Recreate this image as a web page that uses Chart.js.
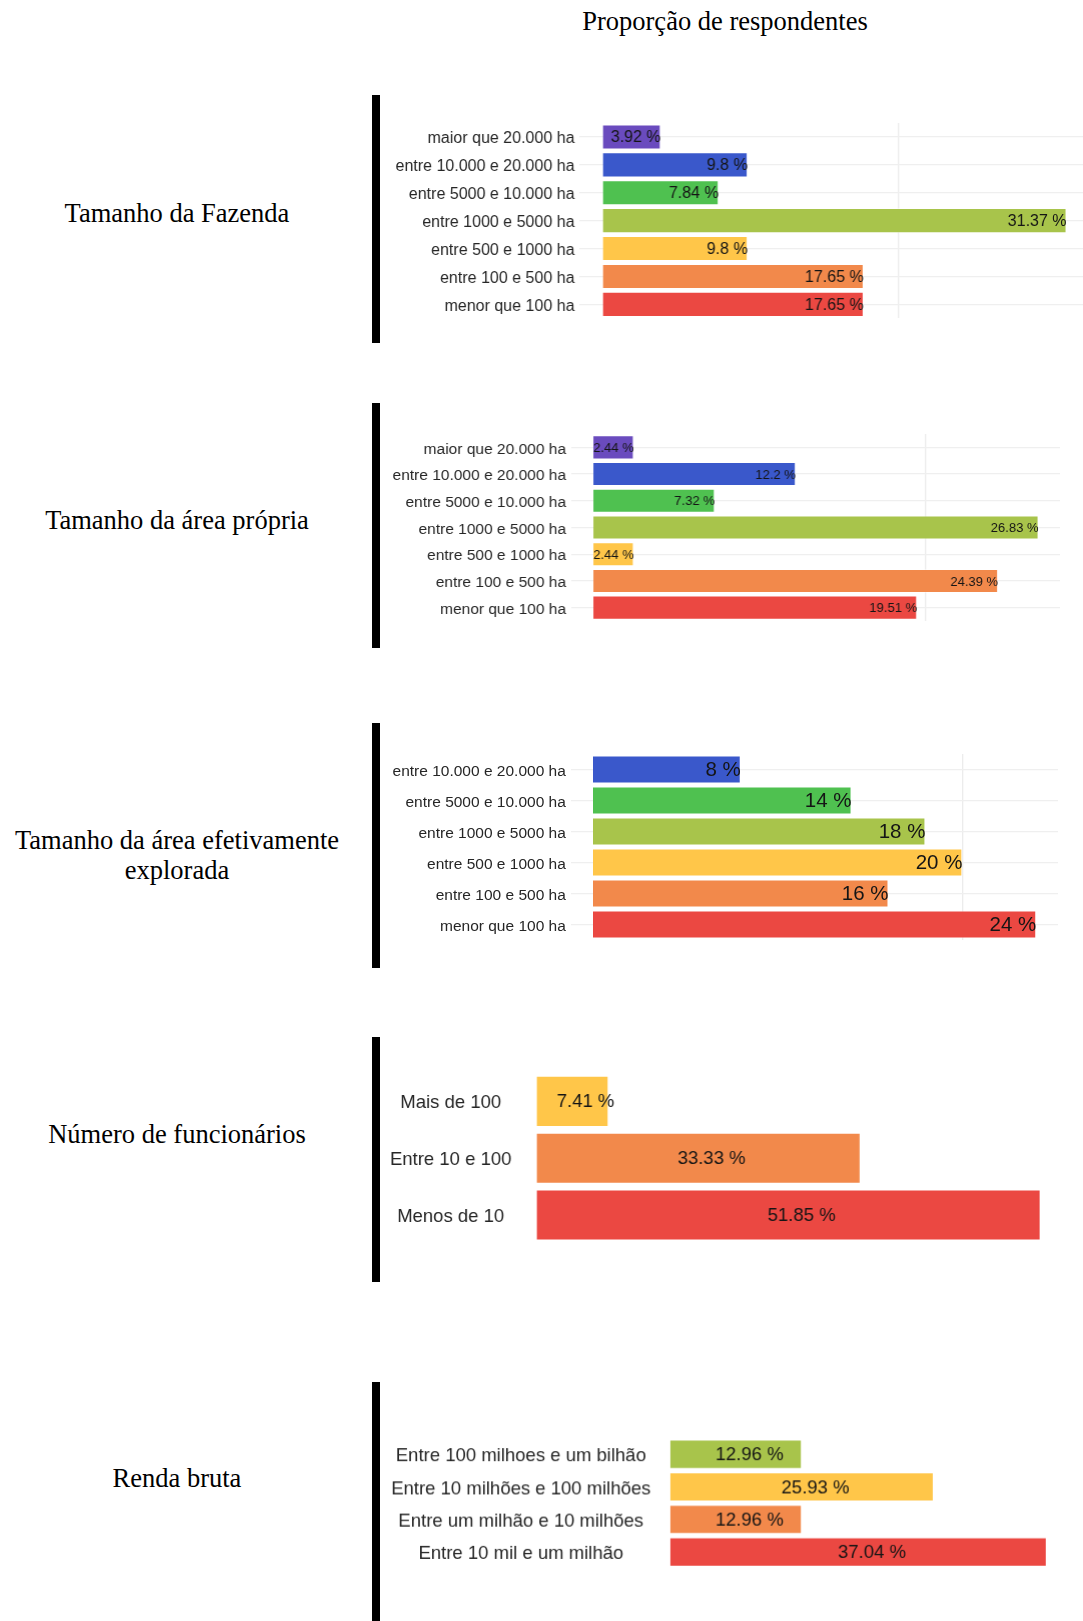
<!DOCTYPE html>
<html lang="pt">
<head>
<meta charset="utf-8">
<title>Proporção de respondentes</title>
<script src="https://cdn.jsdelivr.net/npm/chart.js@4.4.1/dist/chart.umd.min.js"></script>
<style>
  html, body { margin: 0; padding: 0; background: #fff; }
  body {
    width: 1083px; height: 1621px; position: relative; overflow: hidden;
    font-family: 'Liberation Serif', 'Times New Roman', serif;
  }
  .title {
    position: absolute; transform: translate(-50%, -50%);
    font-size: 26.5px; line-height: 30px; color: #000;
    white-space: nowrap; text-align: center;
  }
  .rule { position: absolute; left: 372px; width: 7.5px; background: #000; z-index: 2; }
  .panel { position: absolute; }
</style>
</head>
<body>

<div class="title" style="left:725px; top:21px;">Proporção de respondentes</div>

<div class="title" style="left:177px; top:213px;">Tamanho da Fazenda</div>
<div class="title" style="left:177px; top:520px;">Tamanho da área própria</div>
<div class="title" style="left:177px; top:855px;">Tamanho da área efetivamente<br>explorada</div>
<div class="title" style="left:177px; top:1134px;">Número de funcionários</div>
<div class="title" style="left:177px; top:1478px;">Renda bruta</div>

<!-- black rules separating the row titles from the bars -->
<div class="rule" style="top:95px; height:248px;"></div>
<div class="rule" style="top:403px; height:245px;"></div>
<div class="rule" style="top:723px; height:245px;"></div>
<div class="rule" style="top:1037px; height:245px;"></div>
<div class="rule" style="top:1382px; height:239px;"></div>

<div class="panel" id="p1"><canvas id="c1"></canvas></div>
<div class="panel" id="p2"><canvas id="c2"></canvas></div>
<div class="panel" id="p3"><canvas id="c3"></canvas></div>
<div class="panel" id="p4"><canvas id="c4"></canvas></div>
<div class="panel" id="p5"><canvas id="c5"></canvas></div>

<script>
// area classes (top to bottom)
const sizeClasses = [
    "maior que 20.000 ha",
    "entre 10.000 e 20.000 ha",
    "entre 5000 e 10.000 ha",
    "entre 1000 e 5000 ha",
    "entre 500 e 1000 ha",
    "entre 100 e 500 ha",
    "menor que 100 ha"
];
const exploredClasses = sizeClasses.slice(1); // nobody above 20.000 ha

const employeeClasses = ["Mais de 100", "Entre 10 e 100", "Menos de 10"];
const incomeClasses = [
    "Entre 100 milhoes e um bilhão",
    "Entre 10 milhões e 100 milhões",
    "Entre um milhão e 10 milhões",
    "Entre 10 mil e um milhão"
];

// % of respondents
const farmSizeValues  = [3.92, 9.8, 7.84, 31.37, 9.8, 17.65, 17.65];
const ownAreaValues   = [2.44, 12.2, 7.32, 26.83, 2.44, 24.39, 19.51];
const exploredValues  = [8, 14, 18, 20, 16, 24];
const employeeValues  = [7.41, 33.33, 51.85];
const incomeValues    = [12.96, 25.93, 12.96, 37.04];

// purple -> red, the smaller classes always take the last colours
const palette = ["#6a4bbe", "#3a58cb", "#4fc150", "#a8c44b", "#ffc649", "#f2894b", "#eb4842"];

const LABEL_FONT = "'Liberation Sans', Arial, sans-serif";
const CANVAS_LEFT = 380;

// plot area of every panel in page pixels
const panels = [
    { id: 1, labels: sizeClasses, values: farmSizeValues, left: 579.3, right: 1088.7, top: 122.5, bottom: 317.8,
      grid: true, tickSize: 16, valueSize: 16, pad: 5, cross: "near", mode: "end" },
    { id: 2, labels: sizeClasses, values: ownAreaValues, left: 570.8, right: 1059.8, top: 433.5, bottom: 620.5,
      grid: true, tickSize: 15.5, valueSize: 13, pad: 5, cross: "near", mode: "end" },
    { id: 3, labels: exploredClasses, values: exploredValues, left: 570.8, right: 1058.4, top: 754, bottom: 940,
      grid: true, tickSize: 15.5, valueSize: 20.5, pad: 5, cross: "near", mode: "end" },
    { id: 4, labels: employeeClasses, values: employeeValues, left: 536.3, right: 1064.8, top: 1072.7, bottom: 1243.1,
      grid: false, tickSize: 18.5, valueSize: 18.5, pad: 25, cross: "center", mode: "middle", shift: 13 },
    { id: 5, labels: incomeClasses, values: incomeValues, left: 669.6, right: 1064.6, top: 1438.3, bottom: 1567.6,
      grid: false, tickSize: 18.5, valueSize: 18.5, pad: 19.3, cross: "center", mode: "middle", shift: 13.5 }
];

// writes "xx %" on each bar: at the bar end, or around the middle
const barText = {
    id: "barText",
    afterDatasetsDraw(chart, args, opts) {
        const ctx = chart.ctx;
        const values = chart.data.datasets[0].data;
        ctx.save();
        ctx.font = opts.size + "px " + LABEL_FONT;
        ctx.fillStyle = "#151515";
        ctx.textBaseline = "middle";
        chart.getDatasetMeta(0).data.forEach((bar, i) => {
            const txt = values[i] + " %";
            if (opts.mode === "end") {
                ctx.textAlign = "right";
                ctx.fillText(txt, bar.x, bar.y + 1);
            } else {
                ctx.textAlign = "center";
                ctx.fillText(txt, (bar.x + bar.base) / 2 + opts.shift, bar.y + 1);
            }
        });
        ctx.restore();
    }
};

document.addEventListener("DOMContentLoaded", () => {
    panels.forEach(p => {
        const box = document.getElementById("p" + p.id);
        box.style.left = CANVAS_LEFT + "px";
        box.style.top = p.top + "px";
        box.style.width = (p.right - CANVAS_LEFT) + "px";
        box.style.height = (p.bottom - p.top) + "px";

        const axisWidth = p.left - CANVAS_LEFT;
        const top = Math.max(...p.values);
        // ggplot style 5% expansion on the panels that show a grid
        const xMin = p.grid ? -0.05 * top : 0;
        const xMax = 1.05 * top;

        new Chart(document.getElementById("c" + p.id), {
            type: "bar",
            data: {
                labels: p.labels,
                datasets: [{
                    data: p.values,
                    backgroundColor: palette.slice(-p.values.length),
                    borderColor: "rgba(255, 255, 255, 0.45)",
                    borderWidth: 1,
                    barPercentage: 0.9,
                    categoryPercentage: 1
                }]
            },
            options: {
                indexAxis: "y",
                responsive: true,
                maintainAspectRatio: false,
                animation: false,
                layout: { padding: 0 },
                plugins: {
                    legend: { display: false },
                    tooltip: { enabled: false },
                    barText: { mode: p.mode, size: p.valueSize, shift: p.shift || 0 }
                },
                scales: {
                    x: {
                        min: xMin,
                        max: xMax,
                        ticks: { display: false },
                        border: { display: false },
                        grid: { display: p.grid, color: "#ececec", lineWidth: 1.3, drawTicks: false },
                        afterBuildTicks: s => { s.ticks = [{ value: 20 }]; }, // only the 20 % line shows
                        afterFit: s => {
                            s.height = 0;
                            s.paddingLeft = 0;
                            s.paddingRight = 0;
                        }
                    },
                    y: {
                        ticks: {
                            color: "#262626",
                            font: { family: LABEL_FONT, size: p.tickSize },
                            padding: p.pad,
                            crossAlign: p.cross,
                            labelOffset: 2
                        },
                        border: { display: false },
                        grid: { display: p.grid, offset: false, color: "#efefef", lineWidth: 1.3, drawTicks: false },
                        afterFit: s => {
                            s.width = axisWidth;
                            s.paddingTop = 0;
                            s.paddingBottom = 0;
                        }
                    }
                }
            },
            plugins: [barText]
        });
    });
});
</script>
</body>
</html>
